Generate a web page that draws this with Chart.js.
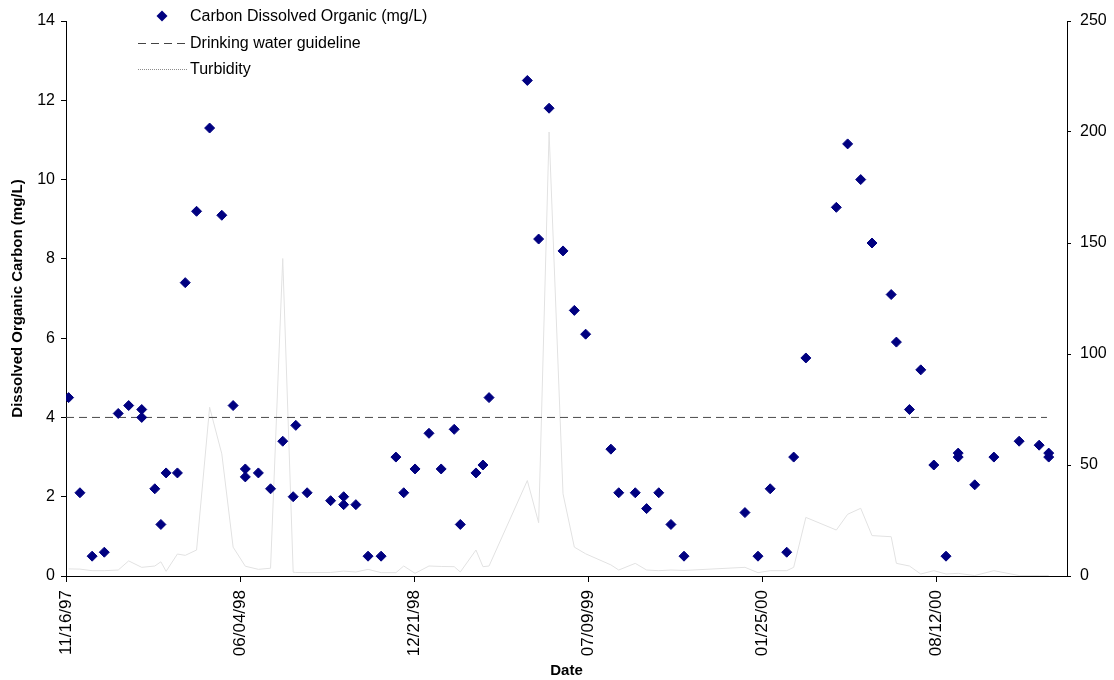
<!DOCTYPE html>
<html>
<head>
<meta charset="utf-8">
<script src="https://cdn.jsdelivr.net/npm/chart.js@4.4.1/dist/chart.umd.min.js"></script>
<style>
  html, body { margin: 0; padding: 0; background: #ffffff; }
  #wrap { width: 1114px; height: 680px; position: relative; }
</style>
</head>
<body>
<div id="wrap"><canvas id="c" width="1114" height="680"></canvas></div>
<script>
// ---------------- DATA ----------------
const sampleDates = [
  "1997-11-19","1997-12-02","1997-12-16","1997-12-30","1998-01-15","1998-01-27","1998-02-11","1998-02-11",
  "1998-02-26","1998-03-05","1998-03-11","1998-03-24","1998-04-02","1998-04-15","1998-04-30","1998-05-14",
  "1998-05-27","1998-06-10","1998-06-10","1998-06-25","1998-07-09","1998-07-23","1998-08-04","1998-08-07",
  "1998-08-20","1998-09-16","1998-10-01","1998-10-01","1998-10-15","1998-10-29","1998-11-13","1998-11-30",
  "1998-12-09","1998-12-22","1999-01-07","1999-01-21","1999-02-05","1999-02-12","1999-03-02","1999-03-10",
  "1999-03-17","1999-04-30","1999-05-13","1999-05-25","1999-06-10","1999-06-23","1999-07-06","1999-08-04",
  "1999-08-13","1999-09-01","1999-09-14","1999-09-28","1999-10-12","1999-10-27","2000-01-05","2000-01-20",
  "2000-02-03","2000-02-22","2000-03-01","2000-03-15","2000-04-19","2000-05-02","2000-05-17","2000-05-30",
  "2000-06-21","2000-06-27","2000-07-12","2000-07-25","2000-08-09","2000-08-23","2000-09-06","2000-09-06",
  "2000-09-25","2000-10-17","2000-11-15","2000-12-08","2000-12-19","2000-12-19"
];
const docValues = [
  4.5, 2.1, 0.5, 0.6, 4.1, 4.3, 4.2, 4.0,
  2.2, 1.3, 2.6, 2.6, 7.4, 9.2, 11.3, 9.1,
  4.3, 2.7, 2.5, 2.6, 2.2, 3.4, 2.0, 3.8,
  2.1, 1.9, 2.0, 1.8, 1.8, 0.5, 0.5, 3.0,
  2.1, 2.7, 3.6, 2.7, 3.7, 1.3, 2.6, 2.8,
  4.5, 12.5, 8.5, 11.8, 8.2, 6.7, 6.1, 3.2,
  2.1, 2.1, 1.7, 2.1, 1.3, 0.5, 1.6, 0.5,
  2.2, 0.6, 3.0, 5.5, 9.3, 10.9, 10.0, 8.4,
  7.1, 5.9, 4.2, 5.2, 2.8, 0.5, 3.1, 3.0,
  2.3, 3.0, 3.4, 3.3, 3.1, 3.0
];
const turbidityValues = [
  3.2, 3.1, 2.4, 2.4, 2.7, 6.8, 3.9, 3.9,
  4.5, 6.4, 2.1, 9.9, 9.3, 11.7, 76, 55,
  13, 4.4, 4.4, 3.0, 3.5, 143, 1.7, 1.6,
  1.5, 1.6, 2.2, 2.2, 1.8, 3.0, 1.5, 1.5,
  4.5, 1.2, 4.5, 4.3, 4.2, 1.8, 11.7, 4.2,
  4.5, 43, 24, 200, 37, 13, 10, 5.0,
  2.7, 5.7, 2.7, 2.4, 2.7, 2.5, 3.9, 1.5,
  2.4, 2.4, 3.9, 26.4, 20.7, 27.8, 30.5, 18.2,
  17.7, 5.7, 4.5, 0.9, 2.4, 0.9, 1.2, 1.2,
  0.2, 2.4, 0.2, 0.2, 0.2, 0.2
];
const guidelineDates = ["1997-11-16", "2000-12-17"];
const guidelineValues = [4, 4];

const axisStartDate = "1997-11-16";
const axisEndDate = "2001-01-09";
const dateTickStepDays = 200;
const leftTicks = [0, 2, 4, 6, 8, 10, 12, 14];
const rightTicks = [0, 50, 100, 150, 200, 250];

const labelDOC = "Carbon Dissolved Organic (mg/L)";
const labelGuide = "Drinking water guideline";
const labelTurb = "Turbidity";
const titleLeft = "Dissolved Organic Carbon (mg/L)";
const titleX = "Date";

// ---------------- HELPERS ----------------
const DAY = 86400000;
function toUTC(s) { const p = s.split("-").map(Number); return Date.UTC(p[0], p[1] - 1, p[2]); }
const base = toUTC(axisStartDate);
function dayNum(s) { return Math.round((toUTC(s) - base) / DAY); }
function fmtDay(v) {
  const d = new Date(base + v * DAY);
  const mm = String(d.getUTCMonth() + 1).padStart(2, "0");
  const dd = String(d.getUTCDate()).padStart(2, "0");
  const yy = String(d.getUTCFullYear() % 100).padStart(2, "0");
  return mm + "/" + dd + "/" + yy;
}

const FONT = "'Liberation Sans', Arial, sans-serif";

const docPoints = sampleDates.map((s, i) => ({ x: dayNum(s), y: docValues[i] }));
const turbPoints = sampleDates.map((s, i) => ({ x: dayNum(s), y: turbidityValues[i] }));
const guidePoints = guidelineDates.map((s, i) => ({ x: dayNum(s), y: guidelineValues[i] }));

// custom legend drawn at top-left (overlapping plot like the original)
const legendPlugin = {
  id: "customLegend",
  afterDraw(chart) {
    const ctx = chart.ctx;
    const ds = chart.data.datasets;
    ctx.save();
    ctx.font = "16px " + FONT;
    ctx.fillStyle = "#000";
    ctx.textBaseline = "middle";
    ctx.textAlign = "left";
    const textX = 190;
    const rows = [16, 43, 69];
    const r1 = rows[0];
    ctx.fillStyle = "#000080";
    ctx.beginPath();
    ctx.moveTo(162, r1 - 5.5); ctx.lineTo(167.5, r1); ctx.lineTo(162, r1 + 5.5); ctx.lineTo(156.5, r1);
    ctx.closePath(); ctx.fill();
    ctx.fillStyle = "#000";
    ctx.fillText(ds[0].label, textX, r1 + 1);
    const r2 = rows[1];
    ctx.strokeStyle = "#444";
    ctx.lineWidth = 1;
    ctx.setLineDash([8, 5]);
    ctx.beginPath(); ctx.moveTo(138, r2 + 0.5); ctx.lineTo(187, r2 + 0.5); ctx.stroke();
    ctx.setLineDash([]);
    ctx.fillText(ds[1].label, textX, r2 + 1);
    const r3 = rows[2];
    ctx.strokeStyle = "#8c8c8c";
    ctx.setLineDash([1, 1]);
    ctx.beginPath(); ctx.moveTo(138, r3 + 0.5); ctx.lineTo(187, r3 + 0.5); ctx.stroke();
    ctx.setLineDash([]);
    ctx.fillText(ds[2].label, textX, r3 + 1);
    ctx.restore();
  }
};

const yTickFont = { family: FONT, size: 16 };
const xTickFont = { family: FONT, size: 17 };
const titleFont = { family: FONT, size: 15, weight: "bold" };

new Chart(document.getElementById("c"), {
  type: "line",
  data: {
    datasets: [
      {
        label: labelDOC,
        data: docPoints,
        yAxisID: "y",
        showLine: false,
        pointStyle: "rectRot",
        pointRadius: 5,
        pointBackgroundColor: "#000080",
        pointBorderColor: "#000080",
        pointBorderWidth: 1,
        order: 0
      },
      {
        label: labelGuide,
        data: guidePoints,
        yAxisID: "y",
        borderColor: "#4a4a4a",
        borderWidth: 1,
        borderDash: [8, 5],
        pointRadius: 0,
        tension: 0,
        order: 1
      },
      {
        label: labelTurb,
        data: turbPoints,
        yAxisID: "y2",
        borderColor: "#e2e2e2",
        borderWidth: 1,
        pointRadius: 0,
        tension: 0,
        order: 2
      }
    ]
  },
  options: {
    responsive: false,
    animation: false,
    devicePixelRatio: 1,
    layout: { padding: { top: 21, left: 0, right: 0, bottom: 0 } },
    plugins: { legend: { display: false }, tooltip: { enabled: false } },
    events: [],
    scales: {
      x: {
        type: "linear",
        position: "bottom",
        min: dayNum(axisStartDate),
        max: dayNum(axisEndDate),
        afterFit(s) { s.height = 104; },
        ticks: {
          stepSize: dateTickStepDays,
          includeBounds: false,
          autoSkip: false,
          maxRotation: 90,
          minRotation: 90,
          padding: 8,
          color: "#000",
          font: xTickFont,
          callback: (v) => fmtDay(v)
        },
        grid: { drawOnChartArea: false, drawTicks: true, tickLength: 6, color: "#000" },
        border: { display: true, color: "#000", width: 1 },
        title: { display: true, text: titleX, color: "#000", font: titleFont, padding: { top: 0, bottom: 0 } }
      },
      y: {
        type: "linear",
        position: "left",
        min: leftTicks[0],
        max: leftTicks[leftTicks.length - 1],
        afterFit(s) { s.width = 66; },
        afterBuildTicks(s) { s.ticks = leftTicks.map(v => ({ value: v })); },
        ticks: { color: "#000", font: yTickFont, padding: 6 },
        grid: { drawOnChartArea: false, drawTicks: true, tickLength: 5, color: "#000" },
        border: { display: true, color: "#000", width: 1 },
        title: { display: true, text: titleLeft, color: "#000", font: titleFont, padding: { top: 9, bottom: 0 } }
      },
      y2: {
        type: "linear",
        position: "right",
        min: rightTicks[0],
        max: rightTicks[rightTicks.length - 1],
        afterFit(s) { s.width = 47; },
        afterBuildTicks(s) { s.ticks = rightTicks.map(v => ({ value: v })); },
        ticks: { color: "#000", font: yTickFont, padding: 9 },
        grid: { drawOnChartArea: false, drawTicks: true, tickLength: 4, color: "#000" },
        border: { display: true, color: "#000", width: 1 }
      }
    }
  },
  plugins: [legendPlugin]
});
</script>
</body>
</html>
